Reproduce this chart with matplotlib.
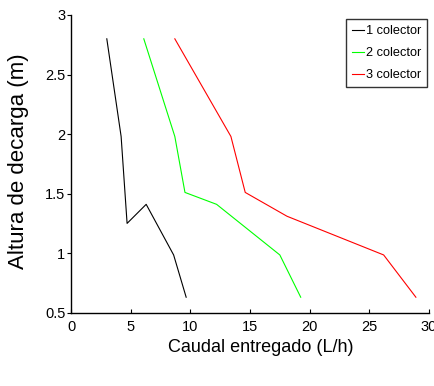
import matplotlib
matplotlib.use("Agg")
import matplotlib.pyplot as plt

# Flow delivered (L/h) versus discharge height (m) for 1, 2 and 3 collectors
alt_1 = [2.80, 1.98, 1.25, 1.41, 0.985, 0.63]
caudal_1 = [3.0, 4.2, 4.7, 6.3, 8.6, 9.65]

alt_2 = [2.80, 1.98, 1.51, 1.41, 0.985, 0.63]
caudal_2 = [6.1, 8.7, 9.55, 12.2, 17.5, 19.25]

alt_3 = [2.80, 1.98, 1.51, 1.31, 0.985, 0.63]
caudal_3 = [8.7, 13.4, 14.6, 18.1, 26.2, 28.9]

labels = ["1 colector", "2 colector", "3 colector"]
colors = ["black", "#00ff00", "#ff0000"]

x_ticks = [0, 5, 10, 15, 20, 25, 30]
y_ticks = [0.5, 1, 1.5, 2, 2.5, 3]

narrow = ["Liberation Sans Narrow", "Liberation Sans"]
regular = ["Liberation Sans"]

fig = plt.figure(figsize=(4.35, 3.86), dpi=100)
ax = fig.add_axes([71 / 435, 1 - 312.7 / 386, (429 - 71) / 435, (312.7 - 15) / 386])

for xs, ys, lab, c in zip([caudal_1, caudal_2, caudal_3], [alt_1, alt_2, alt_3], labels, colors):
    ax.plot(xs, ys, color=c, lw=0.8, label=lab)

ax.set_xlim(0, 30)
ax.set_ylim(0.5, 3)
ax.set_xticks(x_ticks)
ax.set_xticklabels([str(t) for t in x_ticks], family=narrow, fontsize=10.5)
ax.set_yticks(y_ticks)
ax.set_yticklabels([f"{t:g}" for t in y_ticks], family=narrow, fontsize=10.5)
ax.tick_params(axis="x", direction="in", length=3, width=0.8, pad=5)
ax.tick_params(axis="y", direction="out", length=3, width=0.8, pad=1)
ax.spines["top"].set_visible(False)
ax.spines["right"].set_visible(False)
ax.spines["left"].set_linewidth(1.0)
ax.spines["bottom"].set_linewidth(1.0)

fig.text(19 / 435, 1 - 161 / 386, "Altura de decarga (m)", rotation=90,
         ha="center", va="center", family=regular, fontsize=16)
fig.text(261 / 435, 1 - 348 / 386, "Caudal entregado (L/h)",
         ha="center", va="center", family=narrow, fontsize=13)

leg = ax.legend(loc="upper right", bbox_to_anchor=(1 - 1.7 / 358, 1 - 3.7 / 297.7),
                prop={"family": narrow, "size": 9.2}, frameon=True, fancybox=False,
                handlelength=0.95, handletextpad=0.1, borderpad=0.5, labelspacing=0.78,
                borderaxespad=0.0)
leg.get_frame().set_edgecolor("black")
leg.get_frame().set_linewidth(1.0)

fig.savefig("out.png", dpi=100)
